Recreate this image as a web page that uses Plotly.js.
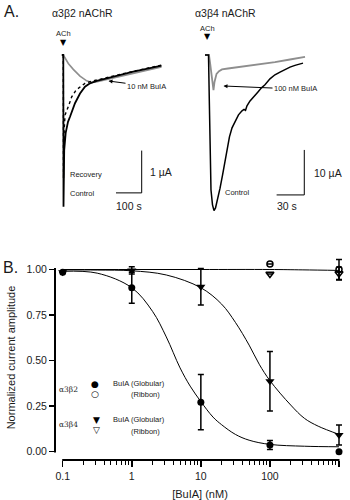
<!DOCTYPE html>
<html>
<head>
<meta charset="utf-8">
<script src="https://cdn.plot.ly/plotly-3.0.1.min.js"></script>
<style>html,body{margin:0;padding:0;background:#fff;}#chart{width:350px;height:500px;}</style>
</head>
<body>
<div id="chart"></div>
<script>
// ---------- Panel A, left: alpha3beta2 nAChR currents (time s, current uA) ----------
const a32ControlT  = [-6, 0, 0.8, 3.5, 9.3, 18.3, 26.1, 45.5, 65, 84.4, 103.9, 130, 168.9, 207.8, 272.4, 337.4, 382];
const a32ControlI  = [0, 0, -3.59, -2.25, -1.84, -1.58, -1.46, -1.14, -0.91, -0.75, -0.67, -0.61, -0.55, -0.49, -0.39, -0.31, -0.25];
const a32RecoveryT = [0, 0.8, 3.5, 6.6, 19.5, 32.7, 49.4, 65, 84.4, 103.9, 130, 168.9, 220.6, 298.4, 382];
const a32RecoveryI = [0, -2.91, -1.77, -1.42, -1.22, -0.99, -0.83, -0.75, -0.67, -0.63, -0.59, -0.53, -0.46, -0.35, -0.24];
const a32BuIAT     = [0, 6.6, 19.5, 38.9, 65, 91, 110.5, 127.2, 168.9, 220.6, 298.4, 382];
const a32BuIAI     = [0, -0.08, -0.20, -0.34, -0.50, -0.61, -0.65, -0.64, -0.58, -0.51, -0.39, -0.28];

// ---------- Panel A, right: alpha3beta4 nAChR currents (time s, current uA) ----------
const a34ControlT = [0, 3.8, 4.66, 5.42, 6.5, 8.13, 9.75, 11.4, 13.5, 16.3, 19.0, 21.7, 23.8, 26.5, 29.3, 32.5, 36.3, 40.1, 42.3, 43.9, 45.5, 48.8, 53.1, 57.4, 61.2, 65.0, 70.4, 75.8, 81.3, 86.7, 92.1, 97.5, 102.9, 106.2];
const a34ControlI = [0, 0, -10.0, -21.1, -30.0, -33.3, -34.6, -34.0, -32.2, -29.6, -26.7, -23.3, -20.7, -18.2, -16.2, -14.7, -13.3, -12.4, -12.1, -12.3, -11.3, -10.2, -9.1, -8.2, -7.3, -6.6, -5.3, -4.4, -3.8, -3.2, -2.7, -2.3, -2.0, -1.8];
const a34BuIAT    = [0, 4.3, 5.4, 7.0, 8.1, 9.2, 10.3, 12.5, 15.2, 18.4, 24.9, 32.5, 48.8, 61.8, 75.8, 92.1, 108.4];
const a34BuIAI    = [0, 0, -1.6, -4.4, -7.3, -7.8, -6.0, -4.2, -3.6, -3.2, -3.0, -2.8, -2.3, -2.0, -1.6, -1.0, -0.4];

// ---------- Panel B: concentration-response ----------
const conc        = [0.1, 1, 10, 100, 1000];
const concRibbon  = [100, 1000];
const b2GlobY     = [0.985, 0.90, 0.272, 0.037, 0.0];
const b2GlobErr   = [0, 0.085, 0.152, 0.025, 0];
const b2RibY      = [1.03, 1.0];
const b2RibErr    = [0, 0.055];
const b4GlobY     = [0.985, 0.995, 0.905, 0.387, 0.092];
const b4GlobErr   = [0, 0.02, 0.10, 0.163, 0.055];
const b4RibY      = [0.975, 0.978];
const b4RibErr    = [0, 0.035];
// fitted curves
const fitB2X = [0.1, 0.316, 1, 2, 3.16, 5, 7, 10, 15, 20, 31.6, 50, 100, 316, 1000];
const fitB2Y = [0.99, 0.98, 0.90, 0.77, 0.63, 0.46, 0.36, 0.275, 0.19, 0.148, 0.095, 0.063, 0.04, 0.03, 0.027];
const fitB4X = [0.1, 0.316, 1, 3.16, 10, 20, 31.6, 50, 70, 100, 200, 316, 500, 1000];
const fitB4Y = [0.998, 0.997, 0.993, 0.97, 0.90, 0.81, 0.71, 0.585, 0.48, 0.39, 0.256, 0.183, 0.14, 0.095];
const fitRibX = [0.1, 1, 10, 100, 300, 1000];
const fitRibY = [1.0, 1.0, 1.0, 1.0, 0.998, 0.995];
const xTicks = [0.1, 1, 10, 100, 1000];
const xTickText = ['0.1', '1', '10', '100', '1000'];
const xMinorTicks = [0.2, 0.3, 0.4, 0.5, 0.6, 0.7, 0.8, 0.9,
                     2, 3, 4, 5, 6, 7, 8, 9,
                     20, 30, 40, 50, 60, 70, 80, 90,
                     200, 300, 400, 500, 600, 700, 800, 900];
const yTicks = [0, 0.25, 0.5, 0.75, 1.0];

// scale bars
const leftBar  = {t0: 205, t1: 305, i0: -3.26, i1: -2.26};   // 100 s, 1 uA
const rightBar = {t0: 77.6, t1: 107.6, i0: -31.1, i1: -21.1}; // 30 s, 10 uA

const FONT = 'Liberation Sans, Arial, sans-serif';
const TXT = '#1a1a1a';
const GRAY = '#8e8e8e';
const X = px => px / 350;
const Y = py => 1 - py / 500;

const traces = [
  // Panel A left
  {x: a32BuIAT, y: a32BuIAI, xaxis: 'x2', yaxis: 'y2', mode: 'lines', line: {color: GRAY, width: 1.6}},
  {x: a32RecoveryT, y: a32RecoveryI, xaxis: 'x2', yaxis: 'y2', mode: 'lines', line: {color: '#000', width: 1.4, dash: 'dot'}},
  {x: a32ControlT, y: a32ControlI, xaxis: 'x2', yaxis: 'y2', mode: 'lines', line: {color: '#000', width: 1.8}},
  // Panel A right
  {x: a34BuIAT, y: a34BuIAI, xaxis: 'x3', yaxis: 'y3', mode: 'lines', line: {color: GRAY, width: 1.8}},
  {x: a34ControlT, y: a34ControlI, xaxis: 'x3', yaxis: 'y3', mode: 'lines', line: {color: '#000', width: 1.5}},
  // Panel B fits
  {x: fitRibX, y: fitRibY, mode: 'lines', line: {color: '#000', width: 1, shape: 'spline'}},
  {x: fitB4X, y: fitB4Y, mode: 'lines', line: {color: '#000', width: 1, shape: 'spline'}},
  {x: fitB2X, y: fitB2Y, mode: 'lines', line: {color: '#000', width: 1, shape: 'spline'}},
  // Panel B points
  {x: conc, y: b2GlobY, mode: 'markers', cliponaxis: false,
   marker: {symbol: 'circle', size: 7, color: '#000'},
   error_y: {type: 'data', array: b2GlobErr, color: '#000', thickness: 1.5, width: 3}},
  {x: conc, y: b4GlobY, mode: 'markers', cliponaxis: false,
   marker: {symbol: 'triangle-down', size: 8, color: '#000'},
   error_y: {type: 'data', array: b4GlobErr, color: '#000', thickness: 1.5, width: 3}},
  {x: concRibbon, y: b2RibY, mode: 'markers', cliponaxis: false,
   marker: {symbol: 'circle-open', size: 6, color: '#000', line: {width: 1.5}},
   error_y: {type: 'data', array: b2RibErr, color: '#000', thickness: 1.5, width: 3}},
  {x: concRibbon, y: b4RibY, mode: 'markers', cliponaxis: false,
   marker: {symbol: 'triangle-down-open', size: 7, color: '#000', line: {width: 1.5}},
   error_y: {type: 'data', array: b4RibErr, color: '#000', thickness: 1.5, width: 3}}
];

function ann(text, px, py, size, opts) {
  return Object.assign({text: text, xref: 'paper', yref: 'paper', x: X(px), y: Y(py),
    showarrow: false, xanchor: 'center', yanchor: 'middle',
    font: {family: FONT, size: size, color: TXT}}, opts || {});
}

const annotations = [
  ann('A.', 2, 11, 16, {xanchor: 'left'}),
  ann('B.', 1, 267, 16, {xanchor: 'left'}),
  ann('α3β2 nAChR', 82, 13, 10.5),
  ann('α3β4 nAChR', 225, 13, 10.5),
  ann('ACh', 63, 33, 7.5),
  ann('▼', 63, 43, 8, {font: {family: 'DejaVu Sans', size: 8, color: '#000'}}),
  ann('ACh', 207, 28, 7.5),
  ann('▼', 207, 37, 8, {font: {family: 'DejaVu Sans', size: 8, color: '#000'}}),
  ann('Recovery', 68, 174, 7.5, {xanchor: 'left'}),
  ann('Control', 68, 193, 7.5, {xanchor: 'left'}),
  ann('1 µA', 148, 172, 10.5, {xanchor: 'left'}),
  ann('100 s', 129, 206, 10.5),
  ann('Control', 223, 192, 7.5, {xanchor: 'left'}),
  ann('10 µA', 312, 173, 10.5, {xanchor: 'left'}),
  ann('30 s', 287, 206, 10.5),
  {text: '10 nM BuIA', xref: 'paper', yref: 'paper', x: X(108.5), y: Y(81), ax: 38, ay: 5,
   showarrow: true, arrowhead: 2, arrowsize: 0.8, arrowwidth: 1, arrowcolor: '#000',
   font: {family: FONT, size: 7.5, color: TXT}},
  {text: '100 nM BuIA', xref: 'paper', yref: 'paper', x: X(223.5), y: Y(86), ax: 72, ay: 3,
   showarrow: true, arrowhead: 2, arrowsize: 0.8, arrowwidth: 1, arrowcolor: '#000',
   font: {family: FONT, size: 7.5, color: TXT}},
  // legend of panel B
  ann('α3β2', 68.5, 389, 8, {font: {family: 'DejaVu Serif', size: 7.5, color: TXT}}),
  ann('●', 95, 383.5, 9, {font: {family: 'DejaVu Sans', size: 9, color: '#000'}}),
  ann('○', 95, 394, 9, {font: {family: 'DejaVu Sans', size: 9, color: '#000'}}),
  ann('BuIA (Globular)', 139, 383.5, 7.5),
  ann('(Ribbon)', 145, 394.5, 7.5),
  ann('α3β4', 68.5, 424, 8, {font: {family: 'DejaVu Serif', size: 7.5, color: TXT}}),
  ann('▼', 96.7, 419.5, 9, {font: {family: 'DejaVu Sans', size: 9, color: '#000'}}),
  ann('▽', 96.7, 430, 9, {font: {family: 'DejaVu Sans', size: 9, color: '#000'}}),
  ann('BuIA (Globular)', 139, 419.5, 7.5),
  ann('(Ribbon)', 145, 431, 7.5)
];

const shapes = [
  // scale bars
  {type: 'line', xref: 'x2', yref: 'y2', x0: leftBar.t0, x1: leftBar.t1, y0: leftBar.i0, y1: leftBar.i0, line: {color: '#000', width: 1}},
  {type: 'line', xref: 'x2', yref: 'y2', x0: leftBar.t1, x1: leftBar.t1, y0: leftBar.i0, y1: leftBar.i1, line: {color: '#000', width: 1}},
  {type: 'line', xref: 'x3', yref: 'y3', x0: rightBar.t0, x1: rightBar.t1, y0: rightBar.i0, y1: rightBar.i0, line: {color: '#000', width: 1}},
  {type: 'line', xref: 'x3', yref: 'y3', x0: rightBar.t1, x1: rightBar.t1, y0: rightBar.i0, y1: rightBar.i1, line: {color: '#000', width: 1}},
  // offset axis lines of panel B
  {type: 'line', xref: 'paper', yref: 'paper', x0: X(62.2), x1: X(339.5), y0: Y(460), y1: Y(460), line: {color: '#000', width: 2}},
  {type: 'line', xref: 'paper', yref: 'paper', x0: X(55), x1: X(55), y0: Y(268), y1: Y(452.5), line: {color: '#000', width: 2}}
];

const hidden = {visible: false, showgrid: false, zeroline: false, fixedrange: true};

const layout = {
  width: 350, height: 500,
  margin: {l: 0, r: 0, t: 0, b: 0},
  paper_bgcolor: '#fff', plot_bgcolor: 'rgba(0,0,0,0)',
  showlegend: false,
  font: {family: FONT, color: TXT, size: 10.5},
  xaxis: {
    domain: [X(55), X(345)], type: 'log', range: [-1.1114, 3.0868],
    tickmode: 'array', tickvals: xTicks, ticktext: xTickText,
    showline: false, showgrid: false, zeroline: false,
    ticks: 'outside', ticklen: 6, tickwidth: 1.5, tickcolor: '#000',
    minor: {tickmode: 'array', tickvals: xMinorTicks, ticks: 'outside', ticklen: 3.5, tickwidth: 1, tickcolor: '#000', showgrid: false},
    tickfont: {family: FONT, size: 10.5, color: TXT},
    title: {text: '[BuIA] (nM)', font: {family: FONT, size: 11, color: TXT}, standoff: 12}
  },
  yaxis: {
    domain: [Y(460), Y(255)], range: [-0.0456, 1.0796],
    tickvals: yTicks, tickformat: '.2f',
    showline: false, showgrid: false, zeroline: false,
    ticks: 'outside', ticklen: 5, tickwidth: 1.5, tickcolor: '#000',
    tickfont: {family: FONT, size: 10.5, color: TXT},
    title: {text: 'Normalized current amplitude', font: {family: FONT, size: 11, color: TXT}, standoff: 8}
  },
  xaxis2: Object.assign({domain: [X(45), X(175)], range: [-71.2, 434.6], anchor: 'y2'}, hidden),
  yaxis2: Object.assign({domain: [Y(215), Y(40)], range: [-3.783, 0.355], anchor: 'x2'}, hidden),
  xaxis3: Object.assign({domain: [X(195), X(315)], range: [-10.83, 119.2], anchor: 'y3'}, hidden),
  yaxis3: Object.assign({domain: [Y(215), Y(40)], range: [-35.56, 3.333], anchor: 'x3'}, hidden),
  annotations: annotations,
  shapes: shapes
};

Plotly.newPlot('chart', traces, layout, {staticPlot: true, displayModeBar: false});
</script>
</body>
</html>
